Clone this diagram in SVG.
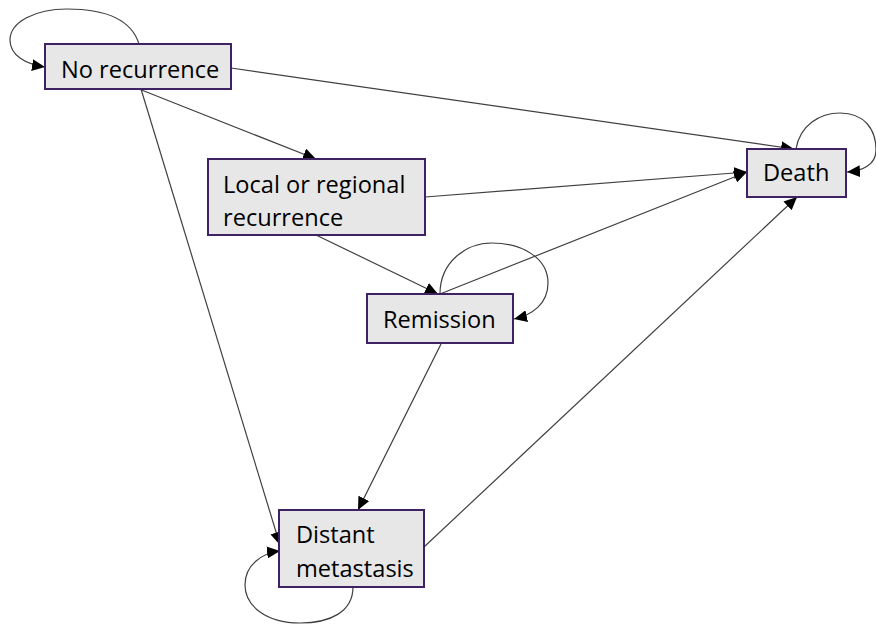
<svg xmlns="http://www.w3.org/2000/svg" width="876" height="626" viewBox="0 0 876 626">
<style>
.box{fill:#e7e7e7;stroke:#3f2262;stroke-width:2}
.lbl{font-family:"Open Sans","Liberation Sans",sans-serif;font-size:23.6px;fill:#000}
.c{fill:none;stroke:#404040;stroke-width:1.2;marker-end:url(#ah)}
</style>
<defs>
<marker id="ah" markerUnits="userSpaceOnUse" markerWidth="14" markerHeight="12" refX="13" refY="6" orient="auto">
<path d="M0,0 L13,6 L0,12 z" fill="#000"/>
</marker>
</defs>
<rect width="876" height="626" fill="#fff"/>
<g id="connectors">
<path class="c" d="M139,44 C130,15 95,9 67,9 C35,9 10,22 10,40 C10,55 25,64 45,67"/>
<path class="c" d="M231,68 L794,149"/>
<path class="c" d="M139,89 L316,159"/>
<path class="c" d="M141,89 L280,545"/>
<path class="c" d="M425,197 L747,172"/>
<path class="c" d="M316,235 L438,294"/>
<path class="c" d="M440,294 L747,172"/>
<path class="c" d="M440,294 C440,262 466,243 492,243 C522,243 548,258 548,283 C548,304 532,315 514,319"/>
<path class="c" d="M441,344 L358,510"/>
<path class="c" d="M424,547 L797,197"/>
<path class="c" d="M353,587 C353,612 330,623 300,623 C265,623 245,605 245,585 C245,565 262,553 280,551"/>
<path class="c" d="M796,149 C800,125 820,113 840,113 C865,113 876,130 876,150 C876,165 862,171 847,172"/>
</g>
<g id="no-recurrence">
<rect class="box" x="45" y="44" width="186" height="45"/>
<text class="lbl" x="61" y="78">No recurrence</text>
</g>
<g id="local-regional">
<rect class="box" x="208" y="159" width="217" height="76"/>
<text class="lbl" x="223" y="193">Local or regional</text>
<text class="lbl" x="223" y="226">recurrence</text>
</g>
<g id="remission">
<rect class="box" x="367" y="294" width="146" height="49"/>
<text class="lbl" x="383" y="328">Remission</text>
</g>
<g id="death">
<rect class="box" x="747" y="149" width="99" height="48"/>
<text class="lbl" x="763" y="181">Death</text>
</g>
<g id="distant-metastasis">
<rect class="box" x="279" y="510" width="145" height="77"/>
<text class="lbl" x="296" y="543">Distant</text>
<text class="lbl" x="296" y="577">metastasis</text>
</g>
</svg>
